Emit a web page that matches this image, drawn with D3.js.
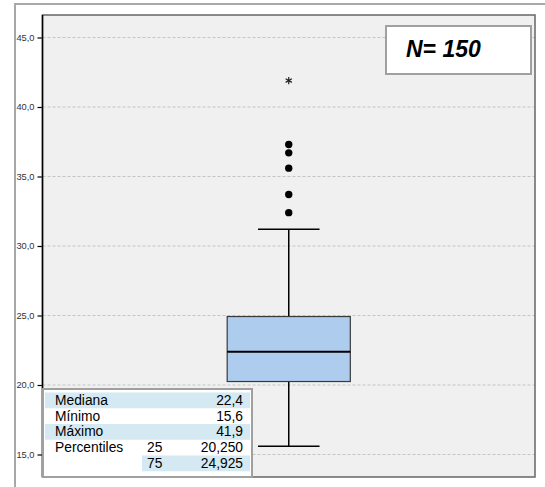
<!DOCTYPE html>
<html>
<head>
<meta charset="utf-8">
<script src="https://cdn.jsdelivr.net/npm/d3@7"></script>
<style>
  body { margin: 0; background: #fff; }
  svg { display: block; font-family: "Liberation Sans", Arial, sans-serif; }
</style>
</head>
<body>
<div id="root"></div>
<script>
// Data
const category = ["Edad"];
const yTicks = [15, 20, 25, 30, 35, 40, 45];
const boxStats = [{ low: 15.6, q1: 20.25, median: 22.4, q3: 24.925, high: 31.2 }];
const outliers = [32.4, 33.7, 35.6, 36.7, 37.3];
const extremes = [41.9];
const nLabel = "N= 150";
const tableLabels = ["Mediana", "Mínimo", "Máximo", "Percentiles", ""];
const tablePct = ["", "", "", "25", "75"];
const tableValues = ["22,4", "15,6", "41,9", "20,250", "24,925"];

const w = 545;
const h = 487;
const plot = { left: 42.5, right: 535, top: 15, bottom: 477 };

const fmt = d3.formatLocale({ decimal: ",", thousands: ".", grouping: [3], currency: ["", "€"] }).format(".1f");

const svg = d3.select("#root")
  .append("svg")
  .attr("width", w)
  .attr("height", h);

// outer frame
svg.append("rect")
  .attr("x", 15).attr("y", 4)
  .attr("width", 560).attr("height", 520)
  .attr("fill", "#fff")
  .attr("stroke", "#a8a8a8")
  .attr("stroke-width", 2);

// scales: 45 sits at y=37.5, 15 at y=454.5
const pxPerUnit = (454.5 - 37.5) / 30;
const y = d3.scaleLinear()
  .domain([15 - (plot.bottom - 454.5) / pxPerUnit, 45 + (37.5 - plot.top) / pxPerUnit])
  .range([plot.bottom, plot.top]);

const x = d3.scaleBand()
  .domain(category)
  .range([plot.left, plot.right])
  .paddingInner(0)
  .paddingOuter(1.5);

// plot background
svg.append("rect")
  .attr("x", plot.left).attr("y", plot.top)
  .attr("width", plot.right - plot.left).attr("height", plot.bottom - plot.top)
  .attr("fill", "#f0f0f0");

// gridlines
svg.append("g")
  .selectAll("line")
  .data(yTicks)
  .join("line")
  .attr("x1", plot.left).attr("x2", plot.right)
  .attr("y1", d => y(d)).attr("y2", d => y(d))
  .attr("stroke", "#c4c4c4")
  .attr("stroke-dasharray", "3,2");

// y axis
const yAxis = svg.append("g")
  .attr("transform", `translate(${plot.left},0)`)
  .call(d3.axisLeft(y).tickValues(yTicks).tickFormat(fmt).tickSize(5).tickPadding(3));
yAxis.select(".domain").remove();
yAxis.selectAll(".tick line").attr("stroke", "#000").attr("stroke-width", 1.2);
yAxis.selectAll(".tick text")
  .attr("font-size", "9.3px")
  .attr("font-family", "Liberation Sans, Arial, sans-serif")
  .attr("fill", "#333");

// plot border
svg.append("rect")
  .attr("x", plot.left).attr("y", plot.top)
  .attr("width", plot.right - plot.left).attr("height", plot.bottom - plot.top)
  .attr("fill", "none")
  .attr("stroke", "#666")
  .attr("stroke-width", 1.5);
svg.append("line")
  .attr("x1", plot.left).attr("x2", plot.left)
  .attr("y1", plot.top).attr("y2", plot.bottom)
  .attr("stroke", "#000")
  .attr("stroke-width", 1.5);

// box plot
const bx = x(category[0]);
const bw = x.bandwidth();
const cx = bx + bw / 2;
const s = boxStats[0];

svg.append("line")
  .attr("x1", cx).attr("x2", cx)
  .attr("y1", y(s.high)).attr("y2", y(s.low))
  .attr("stroke", "#000").attr("stroke-width", 1.5);

svg.selectAll(".cap")
  .data([s.low, s.high])
  .join("line")
  .attr("class", "cap")
  .attr("x1", cx - bw / 4).attr("x2", cx + bw / 4)
  .attr("y1", d => y(d)).attr("y2", d => y(d))
  .attr("stroke", "#000").attr("stroke-width", 1.5);

svg.append("rect")
  .attr("x", bx).attr("y", y(s.q3))
  .attr("width", bw).attr("height", y(s.q1) - y(s.q3))
  .attr("fill", "#aecdee")
  .attr("stroke", "#3a3a3a")
  .attr("stroke-width", 1.2);

svg.append("line")
  .attr("x1", bx).attr("x2", bx + bw)
  .attr("y1", y(s.median)).attr("y2", y(s.median))
  .attr("stroke", "#000").attr("stroke-width", 2);

// outliers and extremes
svg.selectAll(".outlier")
  .data(outliers)
  .join("circle")
  .attr("class", "outlier")
  .attr("cx", cx).attr("cy", d => y(d))
  .attr("r", 3.7)
  .attr("fill", "#000");

svg.selectAll(".extreme")
  .data(extremes)
  .join("path")
  .attr("class", "extreme")
  .attr("transform", d => `translate(${cx},${y(d)})`)
  .attr("d", d3.symbol(d3.symbolAsterisk, 36))
  .attr("fill", "none")
  .attr("stroke", "#222")
  .attr("stroke-width", 1.2);

// N box
svg.append("rect")
  .attr("x", 386).attr("y", 26)
  .attr("width", 145).attr("height", 48)
  .attr("fill", "#fff")
  .attr("stroke", "#a0a0a0")
  .attr("stroke-width", 2);
svg.append("text")
  .attr("x", 406).attr("y", 57)
  .attr("font-size", "23px")
  .attr("font-weight", "bold")
  .attr("font-style", "italic")
  .attr("fill", "#000")
  .text(nLabel);

// statistics table
const tbl = { x: 43, y: 389, w: 209, h: 88, rowTop: 392.5, rowH: 15.75 };
svg.append("rect")
  .attr("x", tbl.x).attr("y", tbl.y)
  .attr("width", tbl.w).attr("height", tbl.h)
  .attr("fill", "#fff")
  .attr("stroke", "#a0a0a0")
  .attr("stroke-width", 2);

const rows = svg.append("g")
  .selectAll("g")
  .data(tableLabels.map((label, i) => ({ label, pct: tablePct[i], value: tableValues[i], i })))
  .join("g")
  .attr("transform", d => `translate(0,${tbl.rowTop + d.i * tbl.rowH})`);

rows.filter(d => d.i % 2 === 0)
  .append("rect")
  .attr("x", d => d.label ? tbl.x + 2 : 142)
  .attr("width", d => d.label ? tbl.w - 4 : tbl.x + tbl.w - 2 - 142)
  .attr("height", tbl.rowH)
  .attr("fill", "#d4e9f1");

rows.append("text")
  .attr("x", 55).attr("y", 12.3)
  .attr("font-size", "13.8px")
  .text(d => d.label);
rows.append("text")
  .attr("x", 147).attr("y", 12.3)
  .attr("font-size", "13.8px")
  .text(d => d.pct);
rows.append("text")
  .attr("x", 243).attr("y", 12.3)
  .attr("text-anchor", "end")
  .attr("font-size", "13.8px")
  .text(d => d.value);
</script>
</body>
</html>
